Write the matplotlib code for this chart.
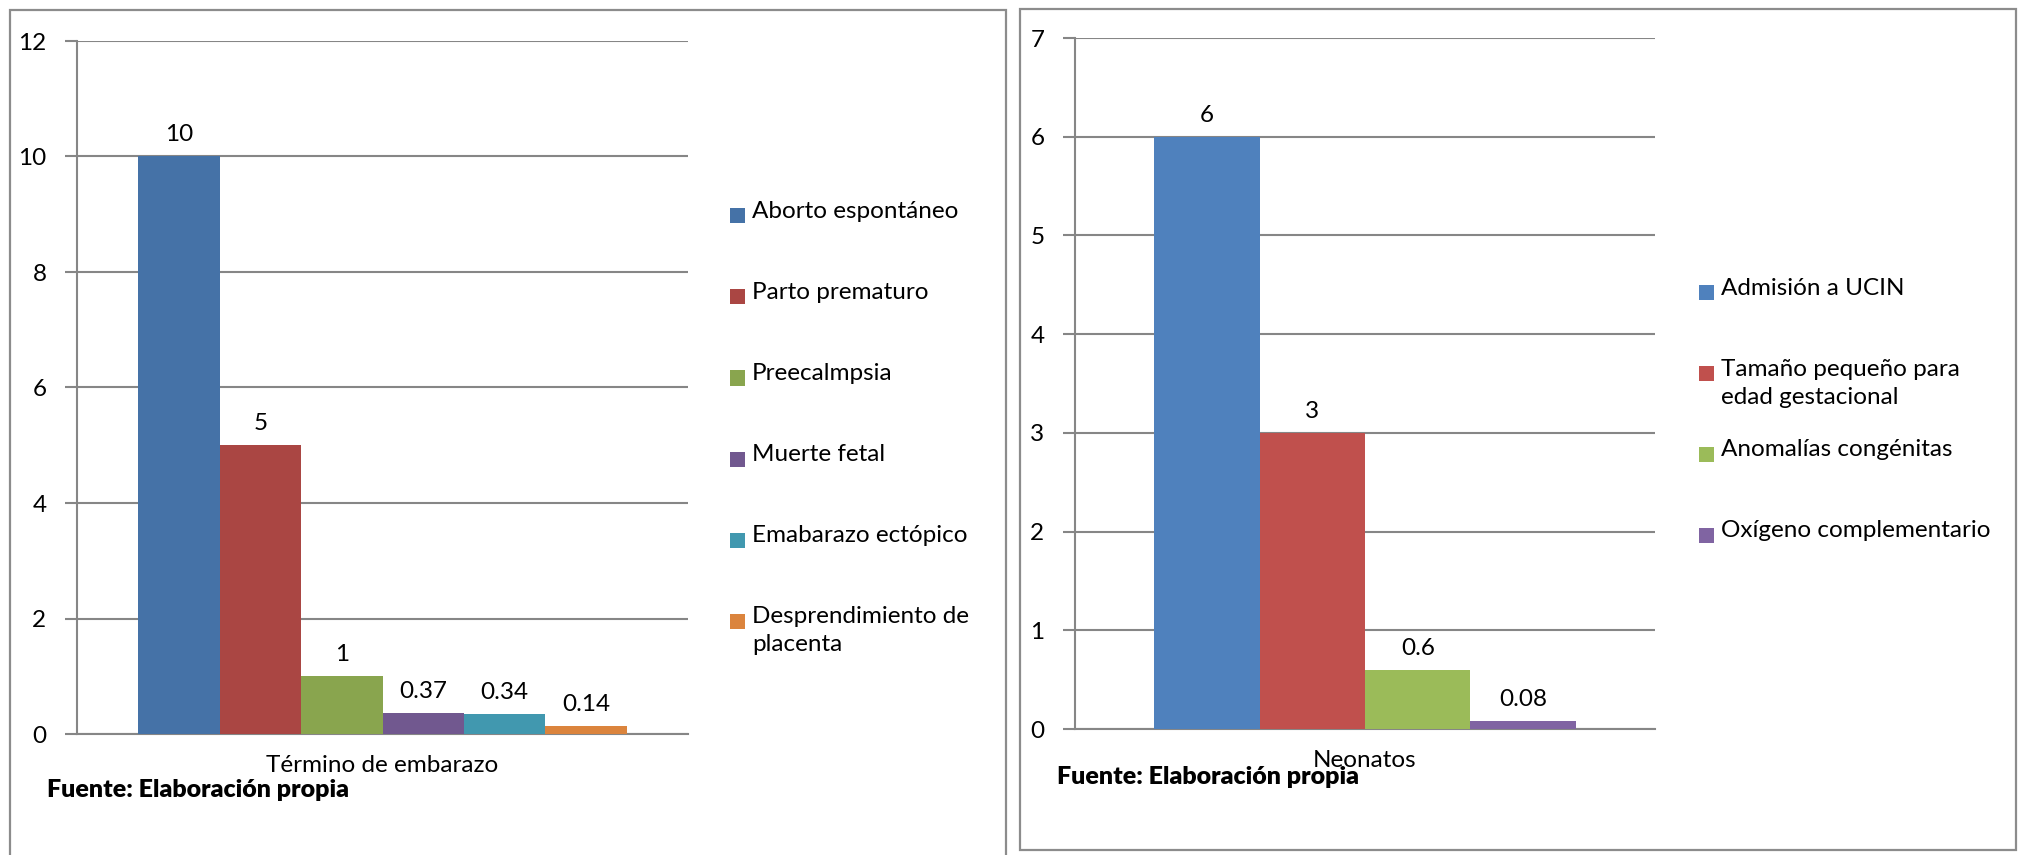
import numpy as np
import matplotlib.pyplot as plt
from matplotlib.patches import Rectangle

plt.rcParams['font.family'] = ['Lato', 'DejaVu Sans']

# left chart: pregnancy outcomes
cat_left = "Término de embarazo"
labels_left = ["Aborto espontáneo", "Parto prematuro", "Preecalmpsia", "Muerte fetal",
               "Emabarazo ectópico", "Desprendimiento de\nplacenta"]
values_left = [10, 5, 1, 0.37, 0.34, 0.14]
colors_left = ["#4572A7", "#AA4643", "#89A54E", "#71588F", "#4198AF", "#DB843D"]

# right chart: neonatal outcomes
cat_right = "Neonatos"
labels_right = ["Admisión a UCIN", "Tamaño pequeño para\nedad gestacional",
                "Anomalías congénitas", "Oxígeno complementario"]
values_right = [6, 3, 0.6, 0.08]
colors_right = ["#4F81BD", "#C0504D", "#9BBB59", "#8064A2"]

W, H = 2018, 855
fig = plt.figure(figsize=(W / 100, H / 100), dpi=100)
GRID = "#868686"
FS = 17.5


def px(x, y):
    return x / W, 1 - y / H


def panel_box(x0, y0, x1, y1, color="#8c8c8c"):
    (fx0, fy1), (fx1, fy0) = px(x0, y0), px(x1, y1)
    fig.add_artist(Rectangle((fx0, fy0), fx1 - fx0, fy1 - fy0, transform=fig.transFigure,
                             fill=False, edgecolor=color, lw=1.6))


def bar_chart(rect, values, colors, category, ymax, step):
    ax = fig.add_axes(rect)
    n = len(values)
    group = n / (n + 1.5)           # gap width 150%
    w = group / n
    xs = -group / 2 + w * (np.arange(n) + 0.5)
    for x, v, c in zip(xs, values, colors):
        b = ax.bar(x, v, width=w, color=c, zorder=3)
        ax.bar_label(b, labels=[f"{v:g}"], padding=8, fontsize=FS)
    ax.set_xlim(-0.5, 0.5)
    ax.set_ylim(0, ymax)
    ax.set_yticks(np.arange(0, ymax + 0.1, step))
    ax.set_xticks([0])
    ax.set_xticklabels([category], fontsize=FS)
    ax.tick_params(axis='x', length=0, pad=15)
    ax.tick_params(axis='y', length=9, width=1.5, color=GRID, pad=13, labelsize=FS)
    ax.grid(axis='y', color=GRID, lw=1.5, zorder=0)
    for s in ['top', 'right']:
        ax.spines[s].set_visible(False)
    for s in ['left', 'bottom']:
        ax.spines[s].set_color(GRID)
        ax.spines[s].set_linewidth(1.5)
    return ax


def legend_column(x_sq, y_first, step, labels, colors):
    for i, (lab, c) in enumerate(zip(labels, colors)):
        yc = y_first + i * step
        fx, fy = px(x_sq, yc + 7.5)
        fig.add_artist(Rectangle((fx, fy), 15 / W, 15 / H, transform=fig.transFigure,
                                 facecolor=c, edgecolor='none'))
        tx, ty = px(x_sq + 22, yc - 15)
        fig.text(tx, ty, lab, fontsize=FS, va='top', ha='left', linespacing=1.4)


panel_box(10, 10, 1006, 870)
panel_box(1020, 9, 2016, 850)

l0, b0 = px(77, 734)
l1, t1 = px(688, 41)
bar_chart([l0, b0, l1 - l0, t1 - b0], values_left, colors_left, cat_left, 12, 2)

l0, b0 = px(1075, 729)
l1, t1 = px(1655, 38)
bar_chart([l0, b0, l1 - l0, t1 - b0], values_right, colors_right, cat_right, 7, 1)

legend_column(730, 216, 81, labels_left, colors_left)
legend_column(1699, 293, 80.7, labels_right, colors_right)

fx, fy = px(47, 790)
fig.text(fx, fy, "Fuente: Elaboración propia", fontsize=18, fontweight='heavy', va='center')
fx, fy = px(1057, 777)
fig.text(fx, fy, "Fuente: Elaboración propia", fontsize=18, fontweight='heavy', va='center')

fig.savefig("out.png", dpi=100)
